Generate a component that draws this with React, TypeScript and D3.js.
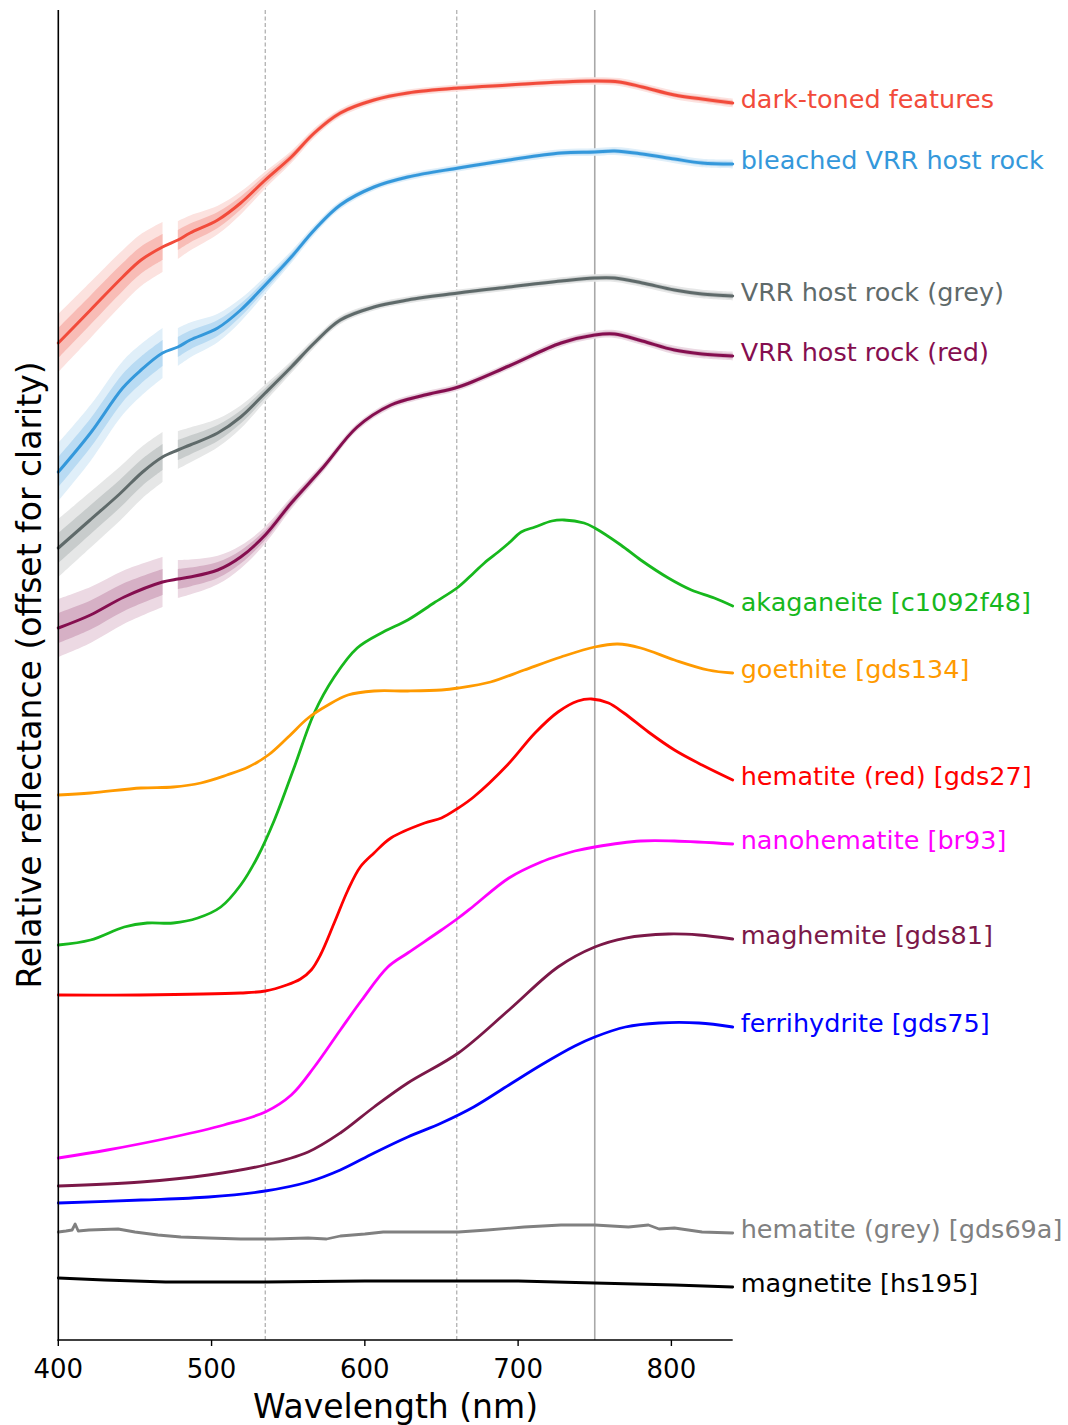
import React from "react";
import * as d3 from "d3";

const W = 1068;
const H = 1425;
const FONT = "'DejaVu Sans', 'Liberation Sans', sans-serif";

// ---------- axis / reference data ----------
const xDomain = [400, 840];
const yDomain = [0, 13.3];
const xTicks = [400, 500, 600, 700, 800];
const dashedLines = [535, 660];
const solidLines = [750];

// ---------- Mars spectra (smoothed), relative reflectance offset ----------
const dtWl = [400, 421, 442, 454, 468, 478, 486, 504, 519, 535, 552, 567, 584, 606, 628, 661, 694, 728, 750, 766, 781, 802, 820, 840];
const dtVal = [9.97, 10.3, 10.63, 10.8, 10.93, 11.0, 11.07, 11.2, 11.37, 11.6, 11.83, 12.07, 12.27, 12.4, 12.47, 12.52, 12.55, 12.58, 12.59, 12.58, 12.53, 12.45, 12.41, 12.37];

const blWl = [400, 421, 442, 454, 468, 478, 486, 504, 519, 535, 552, 567, 584, 606, 628, 661, 694, 728, 750, 763, 781, 802, 820, 840];
const blVal = [8.68, 9.07, 9.52, 9.7, 9.87, 9.93, 10.0, 10.12, 10.3, 10.55, 10.83, 11.1, 11.35, 11.53, 11.63, 11.72, 11.8, 11.87, 11.88, 11.89, 11.86, 11.81, 11.77, 11.76];

const grWl = [400, 420, 440, 455, 468, 478, 486, 504, 519, 535, 552, 567, 584, 606, 628, 661, 694, 728, 750, 763, 781, 802, 820, 840];
const grVal = [7.92, 8.19, 8.46, 8.68, 8.83, 8.9, 8.95, 9.07, 9.23, 9.47, 9.73, 9.97, 10.2, 10.33, 10.4, 10.47, 10.53, 10.59, 10.62, 10.62, 10.57, 10.5, 10.46, 10.44];

const vrWl = [400, 421, 443, 468, 478, 486, 504, 519, 535, 552, 573, 595, 617, 639, 661, 694, 728, 750, 763, 781, 802, 820, 840];
const vrVal = [7.12, 7.25, 7.43, 7.58, 7.61, 7.63, 7.7, 7.83, 8.05, 8.37, 8.73, 9.13, 9.35, 9.45, 9.53, 9.74, 9.97, 10.05, 10.06, 9.99, 9.9, 9.86, 9.84];

// noise envelope of the raw Mars spectra (half-amplitude, reflectance units);
// the raw spectra have a data gap between 468 and 478 nm
const noiseSegFrom = [400, 478];
const noiseSegTo = [468, 840];
const noiseWl = [400, 440, 468, 478, 500, 535, 560, 600, 700, 840];
const noiseCoreAmp = [0.15, 0.14, 0.13, 0.1, 0.085, 0.05, 0.03, 0.02, 0.02, 0.025];
const noiseOuterAmp = [0.29, 0.27, 0.25, 0.19, 0.15, 0.085, 0.05, 0.035, 0.035, 0.045];

// ---------- library spectra ----------
const akWl = [400, 421, 443, 458, 475, 491, 506, 519, 530, 541, 554, 567, 580, 595, 612, 628, 645, 661, 671, 678, 687, 694, 702, 711, 722, 730, 743, 750, 767, 780, 798, 813, 828, 840];
const akVal = [3.95, 4.0, 4.13, 4.17, 4.17, 4.22, 4.33, 4.55, 4.83, 5.2, 5.73, 6.27, 6.63, 6.92, 7.08, 7.2, 7.37, 7.53, 7.67, 7.77, 7.88, 7.97, 8.08, 8.13, 8.19, 8.2, 8.17, 8.12, 7.95, 7.8, 7.62, 7.5, 7.42, 7.34];

const goWl = [400, 421, 454, 475, 493, 510, 524, 537, 550, 563, 576, 589, 606, 628, 650, 661, 682, 704, 728, 750, 765, 780, 802, 824, 840];
const goVal = [5.45, 5.47, 5.52, 5.53, 5.57, 5.65, 5.73, 5.85, 6.03, 6.22, 6.35, 6.45, 6.49, 6.49, 6.5, 6.52, 6.58, 6.7, 6.83, 6.93, 6.96, 6.92, 6.8, 6.7, 6.67];

const hrWl = [400, 453, 519, 535, 549, 558, 565, 571, 580, 589, 597, 606, 617, 639, 650, 661, 671, 693, 711, 726, 739, 748, 759, 769, 785, 802, 820, 840];
const hrVal = [3.45, 3.45, 3.47, 3.49, 3.55, 3.61, 3.7, 3.85, 4.17, 4.5, 4.73, 4.87, 5.02, 5.17, 5.22, 5.32, 5.43, 5.75, 6.07, 6.28, 6.39, 6.41, 6.37, 6.27, 6.08, 5.9, 5.75, 5.6];

const nhWl = [400, 432, 475, 508, 535, 552, 567, 584, 598, 615, 628, 650, 661, 671, 694, 715, 728, 737, 750, 780, 802, 840];
const nhVal = [1.82, 1.9, 2.03, 2.15, 2.28, 2.45, 2.73, 3.1, 3.4, 3.73, 3.87, 4.1, 4.22, 4.34, 4.62, 4.78, 4.85, 4.89, 4.93, 4.99, 4.99, 4.96];

const mgWl = [400, 454, 498, 535, 563, 584, 606, 628, 661, 694, 726, 750, 770, 798, 818, 840];
const mgVal = [1.54, 1.58, 1.65, 1.75, 1.88, 2.07, 2.33, 2.57, 2.87, 3.3, 3.73, 3.93, 4.02, 4.06, 4.05, 4.01];

const fhWl = [400, 454, 498, 535, 563, 584, 606, 628, 650, 671, 694, 715, 737, 750, 770, 792, 818, 840];
const fhVal = [1.37, 1.4, 1.43, 1.49, 1.58, 1.7, 1.87, 2.03, 2.17, 2.33, 2.55, 2.75, 2.94, 3.03, 3.13, 3.17, 3.17, 3.13];

const hgWl = [400, 405, 409, 411, 413, 420, 439, 450, 465, 480, 498, 519, 540, 563, 575, 584, 600, 612, 640, 661, 680, 704, 728, 750, 772, 785, 792, 802, 820, 840];
const hgVal = [1.08, 1.09, 1.1, 1.16, 1.09, 1.1, 1.11, 1.08, 1.05, 1.03, 1.02, 1.01, 1.01, 1.02, 1.01, 1.04, 1.06, 1.08, 1.08, 1.08, 1.1, 1.13, 1.15, 1.15, 1.13, 1.15, 1.11, 1.12, 1.08, 1.07];

const mtWl = [400, 430, 470, 535, 600, 661, 700, 750, 802, 840];
const mtVal = [0.62, 0.6, 0.58, 0.58, 0.59, 0.59, 0.59, 0.57, 0.55, 0.53];

type Series = {
  name: string;
  wl: number[];
  val: number[];
  color: string;
  noise?: string;
  noiseLight?: string;
  smooth: "catmull" | "linear";
  width: number;
};

const marsSeries: Series[] = [
  { name: "dark-toned features", wl: dtWl, val: dtVal, color: "#f24b3b", noise: "#f8bcb6", noiseLight: "#fce2df", smooth: "catmull", width: 3 },
  { name: "bleached VRR host rock", wl: blWl, val: blVal, color: "#3498db", noise: "#b9dbf3", noiseLight: "#e0eff9", smooth: "catmull", width: 3 },
  { name: "VRR host rock (grey)", wl: grWl, val: grVal, color: "#5f6a6a", noise: "#c8cccc", noiseLight: "#e6e7e7", smooth: "catmull", width: 3 },
  { name: "VRR host rock (red)", wl: vrWl, val: vrVal, color: "#850e4f", noise: "#d6b0c5", noiseLight: "#ecd9e3", smooth: "catmull", width: 3 },
];

const labSeries: Series[] = [
  { name: "akaganeite [c1092f48]", wl: akWl, val: akVal, color: "#17b81d", smooth: "catmull", width: 2.8 },
  { name: "goethite [gds134]", wl: goWl, val: goVal, color: "#ff9a00", smooth: "catmull", width: 2.8 },
  { name: "hematite (red) [gds27]", wl: hrWl, val: hrVal, color: "#ff0000", smooth: "catmull", width: 2.8 },
  { name: "nanohematite [br93]", wl: nhWl, val: nhVal, color: "#ff00ff", smooth: "catmull", width: 2.8 },
  { name: "maghemite [gds81]", wl: mgWl, val: mgVal, color: "#7b1848", smooth: "catmull", width: 2.8 },
  { name: "ferrihydrite [gds75]", wl: fhWl, val: fhVal, color: "#0000ff", smooth: "catmull", width: 2.8 },
  { name: "hematite (grey) [gds69a]", wl: hgWl, val: hgVal, color: "#808080", smooth: "linear", width: 2.8 },
  { name: "magnetite [hs195]", wl: mtWl, val: mtVal, color: "#000000", smooth: "linear", width: 2.8 },
];

const X0 = 58.3;
const X1 = 732.7;
const YTOP = 10;
const YBOT = 1340;

export default function App() {
  const x = d3.scaleLinear().domain(xDomain).range([X0, X1]);
  const y = d3.scaleLinear().domain(yDomain).range([YBOT, YTOP]);
  const coreAmp = d3.scaleLinear().domain(noiseWl).range(noiseCoreAmp).clamp(true);
  const outerAmp = d3.scaleLinear().domain(noiseWl).range(noiseOuterAmp).clamp(true);

  const curveOf = (s: Series) => (s.smooth === "catmull" ? d3.curveCatmullRom.alpha(0.5) : d3.curveLinear);

  const pathOf = (s: Series) =>
    d3
      .line<number>()
      .x((i) => x(s.wl[i]))
      .y((i) => y(s.val[i]))
      .curve(curveOf(s))(s.wl.map((_, i) => i)) || "";

  const segIdx = (s: Series, k: number) =>
    s.wl.map((_, i) => i).filter((i) => s.wl[i] >= noiseSegFrom[k] && s.wl[i] <= noiseSegTo[k]);

  const bandOf = (s: Series, k: number, amp: d3.ScaleLinear<number, number>) =>
    d3
      .area<number>()
      .x((i) => x(s.wl[i]))
      .y0((i) => y(s.val[i] - amp(s.wl[i])))
      .y1((i) => y(s.val[i] + amp(s.wl[i])))
      .curve(d3.curveCatmullRom.alpha(0.5))(segIdx(s, k)) || "";

  const labelX = X1 + 8;
  const all = [...marsSeries, ...labSeries];

  return (
    <svg
      width={W}
      height={H}
      viewBox={`0 0 ${W} ${H}`}
      style={{ position: "absolute", left: 0, top: 0, display: "block", background: "#fff" }}
    >
      <rect x={0} y={0} width={W} height={H} fill="#ffffff" />

      {/* reference wavelength lines */}
      {dashedLines.map((w) => (
        <line key={"d" + w} x1={x(w)} x2={x(w)} y1={YTOP} y2={YBOT} stroke="#9a9a9a" strokeWidth={1} strokeDasharray="4,2.5" />
      ))}
      {solidLines.map((w) => (
        <line key={"s" + w} x1={x(w)} x2={x(w)} y1={YTOP} y2={YBOT} stroke="#a8a8a8" strokeWidth={1.6} />
      ))}

      {/* raw-spectrum noise envelopes: faint outer spikes then denser core */}
      {marsSeries.map((s) =>
        noiseSegFrom.map((_, k) => <path key={s.name + "no" + k} d={bandOf(s, k, outerAmp)} fill={s.noiseLight} stroke="none" />)
      )}
      {marsSeries.map((s) =>
        noiseSegFrom.map((_, k) => <path key={s.name + "nc" + k} d={bandOf(s, k, coreAmp)} fill={s.noise} stroke="none" />)
      )}

      {/* spectra */}
      {all.map((s) => (
        <path
          key={s.name}
          d={pathOf(s)}
          fill="none"
          stroke={s.color}
          strokeWidth={s.width}
          strokeLinejoin="round"
          strokeLinecap="round"
        />
      ))}

      {/* series labels */}
      {all.map((s) => (
        <text
          key={s.name + "lbl"}
          x={labelX}
          y={y(s.val[s.val.length - 1]) + 4.5}
          fill={s.color}
          fontFamily={FONT}
          fontSize={25.5}
        >
          {s.name}
        </text>
      ))}

      {/* spines */}
      <line x1={X0} x2={X0} y1={YTOP} y2={YBOT + 0.75} stroke="#000" strokeWidth={1.6} />
      <line x1={X0 - 0.8} x2={X1} y1={YBOT} y2={YBOT} stroke="#000" strokeWidth={1.6} />

      {/* x ticks */}
      {xTicks.map((t) => (
        <g key={"t" + t}>
          <line x1={x(t)} x2={x(t)} y1={YBOT} y2={YBOT + 6} stroke="#000" strokeWidth={1.4} />
          <text x={x(t)} y={YBOT + 38} textAnchor="middle" fontFamily={FONT} fontSize={26} fill="#000">
            {t}
          </text>
        </g>
      ))}

      <text x={(X0 + X1) / 2} y={1418} textAnchor="middle" fontFamily={FONT} fontSize={33} fill="#000">
        Wavelength (nm)
      </text>
      <text
        transform={`translate(41, ${(YTOP + YBOT) / 2}) rotate(-90)`}
        textAnchor="middle"
        fontFamily={FONT}
        fontSize={33}
        fill="#000"
      >
        Relative reflectance (offset for clarity)
      </text>
    </svg>
  );
}
